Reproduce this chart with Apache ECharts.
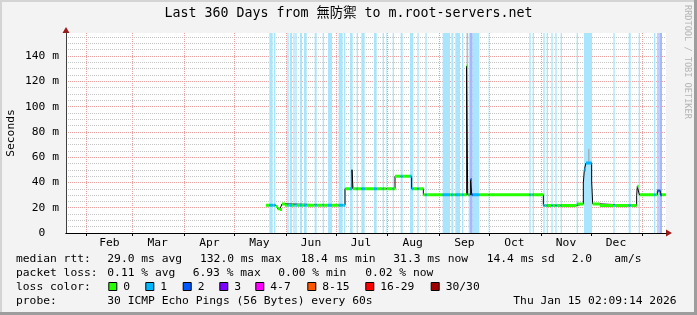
<!DOCTYPE html>
<html><head><meta charset="utf-8">
<script src="https://cdn.jsdelivr.net/npm/echarts@6/dist/echarts.min.js"></script>
<style>html,body{margin:0;padding:0;background:#f3f3f3}#c{width:697px;height:315px}</style>
</head><body><div id="c"></div>
<script>
// ---------- data ----------
const TITLE = 'Last 360 Days from 無防禦 to m.root-servers.net';
const SPAN_DAYS = 360;              // x axis: days since Jan 20 2025 02:09
const Y_MAX = 158.2;                // ms
const Y_STEP = 20;
const monthNames = ['Feb','Mar','Apr','May','Jun','Jul','Aug','Sep','Oct','Nov','Dec'];
const monthStartDays = [11.91, 39.91, 70.91, 100.91, 131.91, 161.91, 192.91, 223.91, 253.91, 284.91, 314.91, 345.91];
// median rtt as step breakpoints [day, ms]
const rttSteps = [
  [120.0, 22.0], [126.0, 21.0], [127.0, 19.2], [128.4, 18.6], [129.6, 23.0], [131.4, 22.0],
  [167.4, 35.0], [171.6, 50.0], [172.2, 35.0], [197.4, 44.8], [207.4, 35.0], [214.4, 30.2],
  [240.4, 132.0], [241.0, 30.2], [242.8, 42.3], [243.4, 30.2],
  [286.4, 21.8], [306.4, 23.0], [310.4, 39.6], [311.0, 50.0], [312.0, 55.4], [315.4, 41.0],
  [316.0, 23.0], [320.4, 21.8], [342.4, 29.6], [342.8, 36.9], [344.0, 30.2],
  [354.8, 33.4], [356.6, 30.2], [359.8, 30.2]
];
// smoke extents [day, low ms, high ms]
const smoke = [[240.7, 132.0, 158.2], [313.7, 55.4, 66.5]];
// packet loss periods [startDay, endDay, lossLevel]
const lossBands = [
  [122.0,124.0,1],[124.8,125.6,1],[132.8,133.6,1],[134.4,135.6,1],[136.4,137.2,1],[137.6,138.4,1],
  [140.4,141.6,1],[142.8,144.4,1],[149.2,150.4,1],[154.0,154.8,1],[157.2,159.6,1],[163.6,166.0,1],
  [166.8,167.6,1],[170.4,172.0,1],[174.4,175.2,1],[177.2,179.2,1],[184.8,186.4,1],[190.0,190.8,1],
  [192.0,192.4,1],[196.0,196.8,1],[200.8,202.0,1],[206.4,208.4,1],[210.8,211.6,1],[215.6,216.4,1],
  [226.0,230.4,1],[231.2,232.4,1],[233.6,236.4,1],[237.6,238.4,1],[241.6,242.4,1],[242.4,244.0,2],
  [244.0,248.0,1],[253.6,254.0,1],[278.0,278.8,1],[280.0,280.8,1],[286.4,287.2,1],[288.4,289.2,1],
  [291.2,292.0,1],[293.6,294.4,1],[296.8,297.6,1],[306.4,307.2,1],[310.8,315.6,1],[328.4,329.2,1],
  [337.6,338.8,1],[343.6,344.4,1],[352.8,353.6,1],[354.8,355.6,2],[356.0,357.6,2]
];
const lossLabels = ['0','1','2','3','4-7','8-15','16-29','30/30'];
const lossColors = ['#26ff00','#00b8ff','#0059ff','#7e00ff','#ff00ff','#ff5500','#ff0000','#a10000'];
const bandColors = [null, '#a9e5fc', '#a6b8fd'];
const statsRtt = ['29.0 ms avg','132.0 ms max','18.4 ms min','31.3 ms now','14.4 ms sd','2.0','am/s'];
const statsLoss = ['0.11 % avg','6.93 % max','0.00 % min','0.02 % now'];
const rowHeads = ['median rtt:','packet loss:','loss color:','probe:'];
const probeText = '30 ICMP Echo Pings (56 Bytes) every 60s';
const dateText = 'Thu Jan 15 02:09:14 2026';
const watermark = 'RRDTOOL / TOBI OETIKER';

// ---------- layout ----------
const FONT = "'DejaVu Sans Mono', 'Noto Sans CJK TC', monospace";
const FS = 11.3;
const rowY = [259.3, 273.3, 287, 301.3];
const rttX = [107.3, 200, 300.7, 393.3, 486.7, 571.7, 614.3];
const lossX = [107.3, 192.7, 278.3, 365.3];
const boxX = [108.3, 145.3, 182.7, 219.3, 255.3, 307.3, 365.3, 430.7];

// category helper axis for month grid + labels
const catData = [];
for (let i = 0; i <= SPAN_DAYS; i++) catData.push('');
const startIdx = new Set(monthStartDays.map(Math.round));
const labelIdx = {};
monthNames.forEach((m, k) => { labelIdx[Math.round((monthStartDays[k] + monthStartDays[k + 1]) / 2)] = m; });
Object.keys(labelIdx).forEach(i => { catData[i] = labelIdx[i]; });

function levelAt(t) { for (const b of lossBands) if (t >= b[0] && t < b[1]) return b[2]; return 0; }
const segByLevel = {};
for (let i = 0; i < rttSteps.length - 1; i++) {
  const a = rttSteps[i][0], b = rttSteps[i + 1][0], v = rttSteps[i][1];
  const cuts = [a, b];
  lossBands.forEach(B => { if (B[0] > a && B[0] < b) cuts.push(B[0]); if (B[1] > a && B[1] < b) cuts.push(B[1]); });
  cuts.sort((p, q) => p - q);
  for (let k = 0; k < cuts.length - 1; k++) {
    const s = cuts[k], e = cuts[k + 1];
    if (e - s <= 0) continue;
    const lvl = levelAt((s + e) / 2);
    (segByLevel[lvl] = segByLevel[lvl] || []).push([s, v], [e, v], null);
  }
}
const smokeData = [];
smoke.forEach(s => smokeData.push([s[0], s[1]], [s[0], s[2]], null));

const series = [
  { type: 'line', name: 'loss', data: [], z: 1, silent: true,
    markArea: { silent: true, data: lossBands.map(b => [{ xAxis: b[0], itemStyle: { color: bandColors[b[2]], opacity: 1 } }, { xAxis: b[1] }]) } },
  { type: 'line', name: 'smoke', data: smokeData, z: 2, symbol: 'none', silent: true, connectNulls: false,
    lineStyle: { color: '#9a9a9a', width: 1 } },
  { type: 'line', name: 'median', data: rttSteps, step: 'end', z: 3, symbol: 'none', silent: true,
    lineStyle: { color: '#000', width: 1 } }
];
Object.keys(segByLevel).forEach(l => {
  series.push({ type: 'line', name: 'loss' + l, data: segByLevel[l], z: 4, symbol: 'none', silent: true, connectNulls: false,
    lineStyle: { color: lossColors[l], width: 3 } });
});

const txt = (x, y, s, extra) => Object.assign({ type: 'text', x, y, silent: true,
  style: { text: s, fontFamily: FONT, fontSize: FS, fill: '#000', verticalAlign: 'middle' } }, extra || {});
const graphic = [
  { type: 'rect', shape: { x: 0, y: 0, width: 697, height: 2 }, style: { fill: '#d4d4d4' }, silent: true },
  { type: 'rect', shape: { x: 0, y: 0, width: 2, height: 315 }, style: { fill: '#d4d4d4' }, silent: true },
  { type: 'rect', shape: { x: 694, y: 0, width: 3, height: 315 }, style: { fill: '#9d9d9d' }, silent: true },
  { type: 'rect', shape: { x: 0, y: 312, width: 697, height: 3 }, style: { fill: '#9d9d9d' }, silent: true },
  { type: 'text', x: 687.5, y: 5, rotation: -Math.PI / 2, silent: true,
    style: { text: watermark, fontFamily: FONT, fontSize: 8.6, fill: '#b5b5b5', verticalAlign: 'middle', align: 'left' } }
];
rowHeads.forEach((h, i) => graphic.push(txt(16, rowY[i], h)));
statsRtt.forEach((s, i) => graphic.push(txt(rttX[i], rowY[0], s)));
statsLoss.forEach((s, i) => graphic.push(txt(lossX[i], rowY[1], s)));
lossLabels.forEach((l, i) => {
  graphic.push({ type: 'rect', silent: true, shape: { x: boxX[i] + 0.5, y: rowY[2] - 4.5, width: 8, height: 8 },
    style: { fill: lossColors[i], stroke: '#000', lineWidth: 1 } });
  graphic.push(txt(boxX[i] + 15, rowY[2], l));
});
graphic.push(txt(107.3, rowY[3], probeText));
graphic.push(txt(513.3, rowY[3], dateText));

const grid = { left: 66, right: 31, top: 33, bottom: 82, show: true, backgroundColor: '#fff', borderWidth: 0,
  containLabel: false, outerBoundsMode: 'none' };
const plainVal = (extra) => Object.assign({ type: 'value', min: 0, max: SPAN_DAYS, position: 'bottom',
  axisLabel: { show: false }, axisTick: { show: false }, splitLine: { show: false } }, extra);
const plainY = (extra) => Object.assign({ type: 'value', min: 0, max: Y_MAX, position: 'left',
  axisLabel: { show: false }, axisTick: { show: false }, splitLine: { show: false } }, extra);

const option = {
  animation: false,
  backgroundColor: '#f3f3f3',
  title: { text: TITLE, left: 'center', top: 7, padding: 0,
    textStyle: { fontFamily: FONT, fontSize: 13.3, fontWeight: 'normal', color: '#000' } },
  grid,
  xAxis: [
    plainVal({ axisLine: { show: false }, z: 0 }),
    { type: 'category', data: catData, boundaryGap: false, position: 'bottom', z: 0,
      axisLine: { show: false },
      axisTick: { show: true, interval: (i) => startIdx.has(i), length: 3, lineStyle: { color: '#000' } },
      axisLabel: { interval: (i) => labelIdx[i] !== undefined, margin: 4,
        fontFamily: FONT, fontSize: FS, color: '#000' },
      splitLine: { show: true, interval: (i) => startIdx.has(i), lineStyle: { color: '#eba0a0', type: [1, 1], width: 1 } } },
    plainVal({ z: 5, axisLine: { show: true, lineStyle: { color: '#9b1b1b' }, symbol: ['none', 'triangle'], symbolSize: [7, 6], symbolOffset: [0, 3] } }),
    plainVal({ z: 6, axisLine: { show: true, lineStyle: { color: '#000' } } })
  ],
  yAxis: [
    { type: 'value', min: 0, max: Y_MAX, interval: Y_STEP, position: 'left', z: 0,
      name: 'Seconds', nameLocation: 'middle', nameGap: 49, nameMoveOverlap: false,
      nameTextStyle: { fontFamily: FONT, fontSize: FS, color: '#000' },
      axisLine: { show: false }, axisTick: { show: false },
      axisLabel: { showMaxLabel: false, margin: 7, fontFamily: FONT, fontSize: FS, color: '#000',
        formatter: v => (v === 0 ? '0  ' : v + ' m') },
      splitLine: { show: true, showMaxLine: false, showMinLine: false, lineStyle: { color: '#eba0a0', type: [1, 1] } },
      minorTick: { show: false, splitNumber: 4 },
      minorSplitLine: { show: true, lineStyle: { color: '#c4c4c4', type: [1, 1] } } },
    plainY({ z: 5, axisLine: { show: true, lineStyle: { color: '#9b1b1b' }, symbol: ['none', 'triangle'], symbolSize: [7, 6], symbolOffset: [0, 3] } }),
    plainY({ z: 6, axisLine: { show: true, lineStyle: { color: '#404040' } } })
  ],
  series: series.map(s => Object.assign({ xAxisIndex: 0, yAxisIndex: 0 }, s)),
  graphic
};
const chart = echarts.init(document.getElementById('c'), null, { renderer: 'canvas' });
chart.setOption(option);
</script></body></html>
